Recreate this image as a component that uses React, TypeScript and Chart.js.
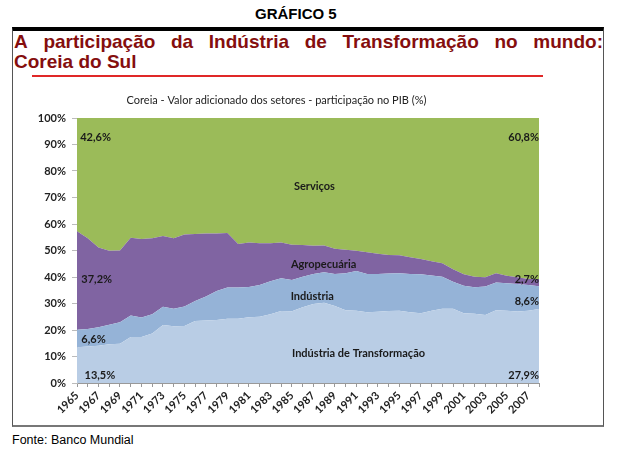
import React, { useEffect, useRef } from "react";
import { Chart, registerables } from "chart.js";

Chart.register(...registerables);

const years = [
  "1965", "1966", "1967", "1968", "1969", "1970", "1971", "1972", "1973", "1974", "1975",
  "1976", "1977", "1978", "1979", "1980", "1981", "1982", "1983", "1984", "1985", "1986",
  "1987", "1988", "1989", "1990", "1991", "1992", "1993", "1994", "1995", "1996", "1997",
  "1998", "1999", "2000", "2001", "2002", "2003", "2004", "2005", "2006", "2007", "2008",
];

const transformacao = [
  13.5, 13.8, 14.1, 14.6, 14.8, 17.4, 17.4, 18.7, 21.9, 21.4, 21.5,
  23.4, 23.6, 23.8, 24.2, 24.2, 24.8, 25.0, 25.9, 27.2, 27.1, 28.6,
  29.8, 30.3, 29.1, 27.5, 27.3, 26.7, 26.9, 27.2, 27.3, 26.7, 26.3,
  27.3, 28.0, 28.0, 26.3, 26.1, 25.7, 27.5, 27.3, 27.0, 27.3, 27.9,
];

const industria = [
  6.6, 6.6, 6.9, 7.4, 8.1, 8.1, 7.3, 7.2, 6.9, 6.6, 7.4,
  7.5, 9.0, 10.9, 11.8, 11.8, 11.4, 12.0, 12.5, 12.3, 11.8, 11.5,
  11.3, 11.5, 12.0, 13.9, 15.0, 14.4, 14.2, 14.1, 14.1, 14.4, 14.7,
  13.3, 12.1, 10.2, 10.4, 10.0, 10.7, 10.4, 10.3, 10.4, 9.7, 8.6,
];

const agropecuaria = [
  37.2, 34.2, 30.1, 27.9, 27.1, 29.3, 29.6, 28.7, 26.7, 26.6, 27.1,
  25.3, 23.8, 21.7, 20.6, 16.5, 16.8, 15.7, 14.3, 13.5, 13.3, 12.0,
  10.7, 10.1, 9.6, 8.9, 7.6, 8.2, 7.7, 7.0, 6.8, 6.4, 5.8,
  5.3, 5.1, 4.7, 4.3, 4.0, 3.5, 3.5, 2.9, 2.5, 2.2, 2.7,
];

const servicos = [
  42.7, 45.4, 48.9, 50.1, 50.0, 45.2, 45.7, 45.4, 44.5, 45.4, 44.0,
  43.8, 43.6, 43.6, 43.4, 47.5, 47.0, 47.3, 47.3, 47.0, 47.8, 47.9,
  48.2, 48.1, 49.3, 49.7, 50.1, 50.7, 51.2, 51.7, 51.8, 52.5, 53.2,
  54.1, 54.8, 57.1, 59.0, 59.9, 60.1, 58.6, 59.5, 60.1, 60.8, 60.8,
];

const seriesNames = ["Indústria de Transformação", "Indústria", "Agropecuária", "Serviços"];
const seriesColors = ["#B9CDE5", "#95B3D7", "#8064A2", "#9BBB59"];

const chartTitle = "Coreia - Valor adicionado dos setores - participação no PIB (%)";

// In-chart labels: text, category index, value (%), alignment
const areaLabels = [
  { text: "42,6%", index: 0.3, value: 92.8, align: "left" },
  { text: "60,8%", index: 43, value: 92.8, align: "right" },
  { text: "Serviços", index: 22.1, value: 74.0, align: "center" },
  { text: "Agropecuária", index: 22.95, value: 44.9, align: "center" },
  { text: "Indústria", index: 21.9, value: 32.5, align: "center" },
  { text: "Indústria de Transformação", index: 26.2, value: 11.3, align: "center" },
  { text: "37,2%", index: 0.4, value: 38.9, align: "left" },
  { text: "6,6%", index: 0.4, value: 16.6, align: "left" },
  { text: "13,5%", index: 0.7, value: 2.8, align: "left" },
  { text: "2,7%", index: 43, value: 39.0, align: "right" },
  { text: "8,6%", index: 43, value: 30.9, align: "right" },
  { text: "27,9%", index: 43, value: 2.8, align: "right" },
];

const labelPlugin = {
  id: "areaLabels",
  afterDatasetsDraw(chart: any) {
    const { ctx, scales } = chart;
    const x = scales.x;
    const y = scales.y;
    ctx.save();
    ctx.font = "bold 11px Lato";
    ctx.fillStyle = "#1a1a1a";
    ctx.textBaseline = "middle";
    for (const a of areaLabels) {
      ctx.textAlign = a.align;
      ctx.fillText(a.text, x.getPixelForValue(a.index), y.getPixelForValue(a.value));
    }
    ctx.restore();
  },
};

function AreaChart() {
  const ref = useRef<HTMLCanvasElement | null>(null);
  useEffect(() => {
    if (!ref.current) return;
    const values = [transformacao, industria, agropecuaria, servicos];
    const chart = new Chart(ref.current, {
      type: "line",
      data: {
        labels: years,
        datasets: values.map((v, i) => ({
          label: seriesNames[i],
          data: v,
          backgroundColor: seriesColors[i],
          borderColor: seriesColors[i],
          borderWidth: 0,
          pointRadius: 0,
          fill: i === 0 ? "origin" : "-1",
          tension: 0,
        })),
      },
      options: {
        animation: false,
        responsive: true,
        maintainAspectRatio: false,
        layout: { padding: { top: 0, right: 63, left: 0, bottom: 0 } },
        plugins: {
          legend: { display: false },
          tooltip: { enabled: false },
          title: {
            display: true,
            text: chartTitle,
            color: "#222",
            font: { family: "Lato", size: 11, weight: "normal" },
            padding: { top: 8, bottom: 10.8 },
          },
        },
        scales: {
          x: {
            type: "category",
            offset: false,
            grid: { display: true, drawOnChartArea: false, drawTicks: true, tickLength: 4, color: "#999" },
            border: { color: "#999" },
            ticks: {
              autoSkip: false,
              minRotation: 45,
              maxRotation: 45,
              padding: 2,
              color: "#222",
              font: { family: "Lato", size: 11, weight: "bold" },
              callback: (_v: any, i: number) => (i % 2 === 0 ? years[i] : ""),
            },
            afterFit: (s: any) => {
              s.height = 37;
            },
          },
          y: {
            stacked: true,
            min: 0,
            max: 100,
            grid: { display: true, drawOnChartArea: false, drawTicks: true, tickLength: 5, color: "#bbb" },
            border: { color: "#bbb" },
            ticks: {
              stepSize: 10,
              padding: 6,
              color: "#222",
              font: { family: "Lato", size: 11, weight: "bold" },
              callback: (v: any) => v + "%",
            },
            afterFit: (s: any) => {
              s.width = 63;
            },
          },
        },
      },
      plugins: [labelPlugin],
    });
    return () => chart.destroy();
  }, []);
  return <canvas ref={ref} />;
}

export default function App() {
  return (
    <div
      style={{
        position: "absolute",
        left: 0,
        top: 0,
        width: 618,
        height: 462,
        background: "#fff",
        fontFamily: "'Liberation Sans', Arial, sans-serif",
      }}
    >
      <div
        style={{
          position: "absolute",
          left: 255,
          top: 5,
          fontSize: 15,
          fontWeight: "bold",
          color: "#000",
          whiteSpace: "nowrap",
        }}
      >
        GRÁFICO 5
      </div>
      <div
        style={{
          position: "absolute",
          left: 12,
          top: 27,
          width: 590,
          height: 394,
          borderTop: "4px solid #000",
          borderLeft: "1px solid #555",
          borderRight: "1px solid #555",
          borderBottom: "2px solid #777",
        }}
      />
      <div
        style={{
          position: "absolute",
          left: 14,
          top: 32,
          width: 589,
          fontSize: 19,
          lineHeight: "20px",
          fontWeight: "bold",
          color: "#850E0E",
        }}
      >
        <div style={{ display: "flex", justifyContent: "space-between", whiteSpace: "nowrap" }}>
          {"A participação da Indústria de Transformação no mundo:".split(" ").map((w, i) => (
            <span key={i}>{w}</span>
          ))}
        </div>
        <div>Coreia do Sul</div>
      </div>
      <div
        style={{
          position: "absolute",
          left: 32,
          top: 75,
          width: 511,
          height: 2,
          background: "#E02828",
        }}
      />
      <div style={{ position: "absolute", left: 14, top: 86, width: 588, height: 334 }}>
        <AreaChart />
      </div>
      <div
        style={{
          position: "absolute",
          left: 12,
          top: 433,
          fontSize: 12.5,
          color: "#000",
          whiteSpace: "nowrap",
        }}
      >
        Fonte: Banco Mundial
      </div>
    </div>
  );
}
